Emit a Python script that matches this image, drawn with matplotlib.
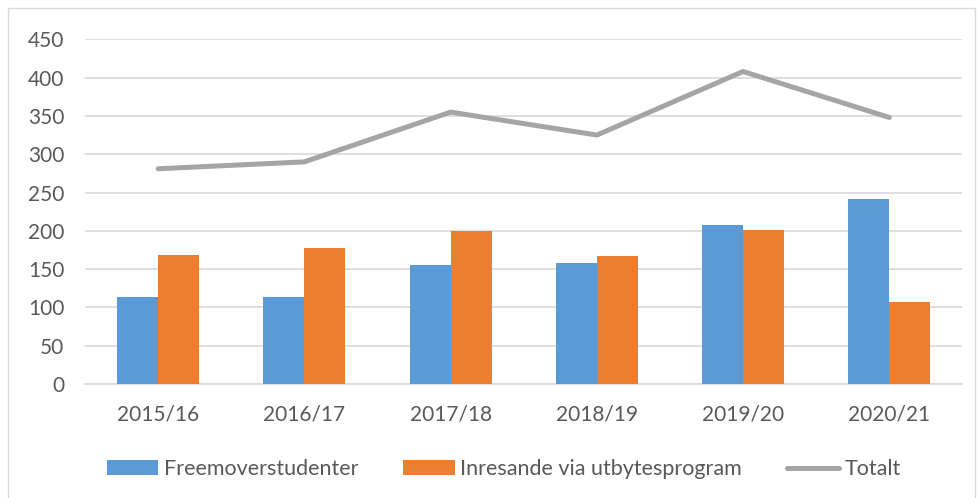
import numpy as np
import matplotlib
matplotlib.use("Agg")
from matplotlib import pyplot as plt
from matplotlib.patches import Rectangle

plt.rcParams['font.family'] = ['Lato', 'DejaVu Sans']

# data
years = ['2015/16', '2016/17', '2017/18', '2018/19', '2019/20', '2020/21']
freemover = [113, 113, 155, 158, 207, 241]
inresande = [168, 177, 200, 167, 201, 107]
totalt = [281, 290, 355, 325, 408, 348]

blue = '#5b9bd5'
orange = '#ed7d31'
grey = '#a5a5a5'
txt = '#595959'
grid = '#d9d9d9'

fig = plt.figure(figsize=(9.78, 4.98), dpi=100)
ax = fig.add_axes([0.087, 0.229, 0.897, 0.692])

x = np.arange(len(years))
w = 0.28
b1 = ax.bar(x - w / 2, freemover, w, color=blue, label='Freemoverstudenter', zorder=3)
b2 = ax.bar(x + w / 2, inresande, w, color=orange, label='Inresande via utbytesprogram', zorder=3)
l1, = ax.plot(x, totalt, color=grey, lw=3.6, label='Totalt', zorder=4,
              solid_capstyle='round', solid_joinstyle='round')

ax.set_xlim(-0.5, len(years) - 0.5)
ax.set_ylim(0, 450)
ax.set_yticks(range(0, 451, 50))
ax.set_xticks(x)
ax.set_xticklabels(years)
ax.yaxis.grid(True, color=grid, lw=1.2, zorder=0)
for s in ['top', 'right', 'left']:
    ax.spines[s].set_visible(False)
ax.spines['bottom'].set_color(grid)
ax.spines['bottom'].set_linewidth(1.2)
ax.tick_params(axis='both', length=0, labelsize=15, labelcolor=txt)
ax.tick_params(axis='y', pad=15)
ax.tick_params(axis='x', pad=15)

fig.legend(handles=[b1, b2, l1], loc='center', bbox_to_anchor=(0.515, 0.058), ncol=3,
           frameon=False, fontsize=15.5, labelcolor=txt, handlelength=2.4,
           handleheight=0.65, handletextpad=0.25, columnspacing=2.1)

# light frame around the chart
fig.patches.append(Rectangle((0.008, -0.05), 0.989, 1.034, transform=fig.transFigure,
                             fill=False, edgecolor=grid, lw=1))

fig.savefig('out.png', dpi=100)
